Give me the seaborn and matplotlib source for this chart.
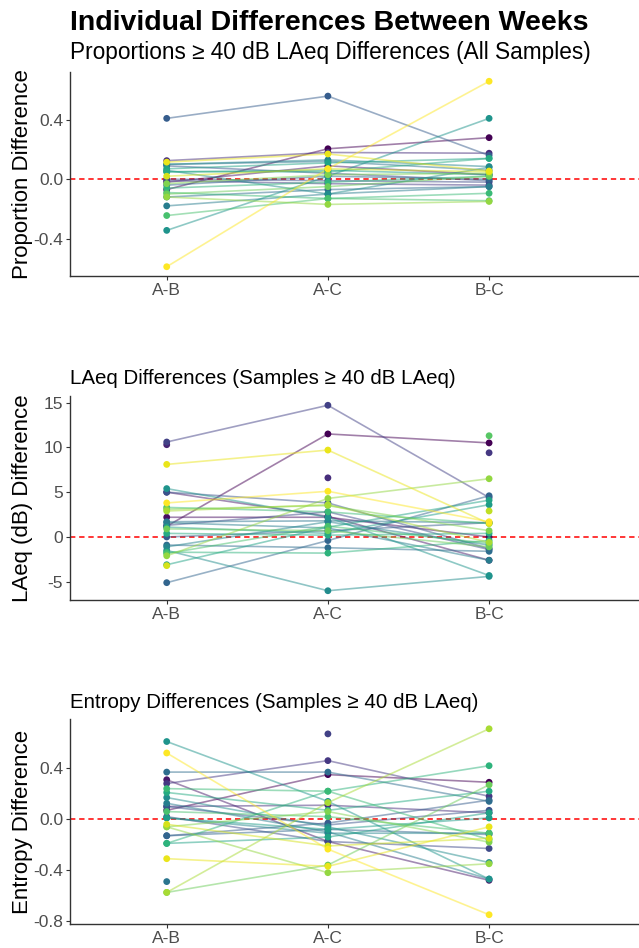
import numpy as np
import pandas as pd
import matplotlib
matplotlib.use("Agg")
import matplotlib.pyplot as plt
import seaborn as sns

nan = np.nan

comparisons = ["A-B", "A-C", "B-C"]
subjects = [f"P{i:02d}" for i in range(1, 33)]

# Proportions >= 40 dB LAeq differences (all samples)
prop_ids = ["P01", "P03", "P05", "P06", "P08", "P09", "P10", "P11", "P12", "P13",
            "P14", "P15", "P16", "P17", "P18", "P19", "P20", "P21", "P22", "P23",
            "P25", "P26", "P27", "P30", "P31", "P32"]
prop_ab = [-0.07, -0.02, 0.125, -0.01, 0.00, 0.09, 0.41, -0.04, -0.12, 0.10,
           -0.18, 0.10, 0.06, -0.345, 0.05, 0.07, 0.05, -0.06, -0.09, -0.245,
           -0.10, -0.03, -0.12, 0.02, 0.115, -0.59]
prop_ac = [0.205, 0.09, 0.18, -0.03, -0.01, 0.04, 0.56, 0.02, -0.07, 0.12,
           -0.10, 0.13, -0.10, 0.02, 0.06, 0.11, 0.05, -0.02, -0.13, -0.13,
           -0.05, 0.03, -0.17, 0.07, 0.17, 0.07]
prop_bc = [0.28, 0.03, 0.175, -0.04, -0.02, -0.01, 0.16, 0.00, -0.05, 0.06,
           -0.05, 0.085, 0.08, 0.41, 0.03, 0.14, 0.14, 0.02, -0.095, -0.145,
           0.02, 0.04, -0.15, 0.05, 0.055, 0.66]

# LAeq differences (samples >= 40 dB LAeq)
laeq_ids = ["P01", "P02", "P03", "P04", "P05", "P06", "P07", "P08", "P09", "P10",
            "P11", "P12", "P13", "P14", "P15", "P16", "P17", "P18", "P19", "P20",
            "P21", "P22", "P23", "P24", "P25", "P26", "P27", "P28", "P29", "P30",
            "P31", "P32"]
laeq_ab = [1.2, 2.2, 5.0, 10.3, nan, nan, 10.6, 1.3, 5.0, 0.0,
           -5.1, -0.9, 1.7, 1.6, -1.1, -1.5, 5.4, 1.1, -3.1, 0.4,
           -1.7, 3.3, -1.85, nan, 0.9, 3.1, -2.1, 2.9, nan, -3.2,
           8.1, 3.8]
laeq_ac = [11.5, 2.2, 2.3, nan, 6.6, nan, 14.7, 2.8, 3.8, 0.7,
           -0.4, -1.2, 1.8, 1.0, 1.7, -6.0, 2.2, 0.4, 1.1, 0.2,
           -1.8, 2.8, 1.2, nan, 0.7, 3.5, 4.3, 3.6, nan, nan,
           9.7, 5.1]
laeq_bc = [10.5, 0.0, -2.6, nan, nan, 9.4, 4.4, -1.4, -1.3, 1.6,
           4.6, -1.6, 1.6, -2.6, -0.9, -4.4, -4.3, 3.6, 4.1, 0.4,
           -0.4, 1.5, -0.7, 11.3, -1.1, 0.7, 6.5, -0.6, 2.9, nan,
           1.5, 1.7]

# Entropy differences (samples >= 40 dB LAeq)
ent_ids = ["P01", "P03", "P05", "P06", "P07", "P08", "P09", "P10", "P11", "P12",
           "P13", "P14", "P15", "P16", "P17", "P18", "P19", "P20", "P21", "P22",
           "P23", "P25", "P26", "P27", "P28", "P30", "P31", "P32"]
ent_ab = [0.07, 0.31, 0.10, 0.28, nan, 0.02, 0.10, -0.13, -0.13, 0.37,
          -0.49, 0.125, 0.01, 0.17, 0.61, 0.01, -0.19, 0.21, -0.19, 0.24,
          0.06, -0.575, -0.06, -0.06, -0.575, -0.04, -0.31, 0.52]
ent_ac = [0.35, -0.175, 0.11, 0.46, 0.67, -0.175, -0.045, -0.03, -0.08, 0.37,
          nan, -0.10, -0.11, -0.06, 0.14, -0.08, -0.14, 0.07, 0.22, 0.22,
          0.02, -0.36, 0.06, -0.42, 0.13, -0.21, -0.37, -0.235]
ent_bc = [0.29, -0.48, 0.05, 0.18, nan, -0.23, 0.07, 0.15, -0.12, 0.14,
          nan, -0.47, -0.11, -0.34, -0.47, 0.01, 0.05, 0.22, 0.42, -0.16,
          -0.11, 0.27, -0.18, -0.35, 0.71, -0.15, -0.06, -0.75]


def long_frame(ids, ab, ac, bc):
    rows = []
    for comp, vals in zip(comparisons, [ab, ac, bc]):
        for sid, v in zip(ids, vals):
            rows.append({"subject": sid, "comparison": comp, "diff": v})
    return pd.DataFrame(rows)


panels = [
    (long_frame(prop_ids, prop_ab, prop_ac, prop_bc),
     "Proportions \u2265 40 dB LAeq Differences (All Samples)", 16.3,
     "Proportion Difference", [-0.4, 0.0, 0.4], "{:.1f}"),
    (long_frame(laeq_ids, laeq_ab, laeq_ac, laeq_bc),
     "LAeq Differences (Samples \u2265 40 dB LAeq)", 14.8,
     "LAeq (dB) Difference", [-5, 0, 5, 10, 15], "{:.0f}"),
    (long_frame(ent_ids, ent_ab, ent_ac, ent_bc),
     "Entropy Differences (Samples \u2265 40 dB LAeq)", 14.8,
     "Entropy Difference", [-0.8, -0.4, 0.0, 0.4], "{:.1f}"),
]

sns.set_style("ticks")
plt.rcParams["font.family"] = ["Liberation Sans", "DejaVu Sans"]
plt.rcParams["axes.unicode_minus"] = False
plt.rcParams["text.color"] = "black"

cols = plt.cm.viridis(np.linspace(0, 1, len(subjects)))
palette = {s: cols[i] for i, s in enumerate(subjects)}

W, H = 639, 948
fig = plt.figure(figsize=(W / 100, H / 100), dpi=100)

# axes boxes in pixels: (top, bottom)
boxes = [(72, 276), (396, 600), (719.5, 924)]
title_base = [59.5, 384, 708]
left = 70

for (df, title, tsize, ylabel, yticks, fmt), (top, bot), tb in zip(panels, boxes, title_base):
    ax = fig.add_axes([left / W, 1 - bot / H, (W - left) / W, (bot - top) / H])
    ax.axhline(0, color="red", ls=(0, (3.5, 2.5)), lw=1.1, zorder=1)
    sns.lineplot(data=df, x="comparison", y="diff", hue="subject", palette=palette,
                 hue_order=subjects, units="subject", estimator=None,
                 alpha=0.5, lw=1.2, legend=False, ax=ax, zorder=2)
    sns.scatterplot(data=df.dropna(), x="comparison", y="diff", hue="subject",
                    palette=palette, hue_order=subjects, s=24, linewidth=0,
                    legend=False, ax=ax, zorder=3)
    ax.set_xlim(-0.6, 2.93)
    vals = df["diff"].dropna()
    pad = 0.05 * (vals.max() - vals.min())
    ax.set_ylim(vals.min() - pad, vals.max() + pad)
    ax.set_yticks(yticks)
    ax.set_yticklabels([fmt.format(t) for t in yticks])
    ax.set_xlabel("")
    ax.set_ylabel(ylabel, fontsize=16, color="black")
    ax.yaxis.set_label_coords(-37 / (W - left), 0.5)
    for side in ["top", "right"]:
        ax.spines[side].set_visible(False)
    for side in ["left", "bottom"]:
        ax.spines[side].set_color("#333333")
        ax.spines[side].set_linewidth(1.0)
    ax.tick_params(axis="both", labelsize=12.5, labelcolor="#4D4D4D",
                   color="#333333", length=3, width=0.8, pad=2)
    fig.text(left / W, 1 - tb / H, title, fontsize=tsize, ha="left", va="baseline")

fig.text(left / W, 1 - 30 / H, "Individual Differences Between Weeks",
         fontsize=20.5, fontweight="bold", ha="left", va="baseline")

fig.savefig("out.png", dpi=100)
